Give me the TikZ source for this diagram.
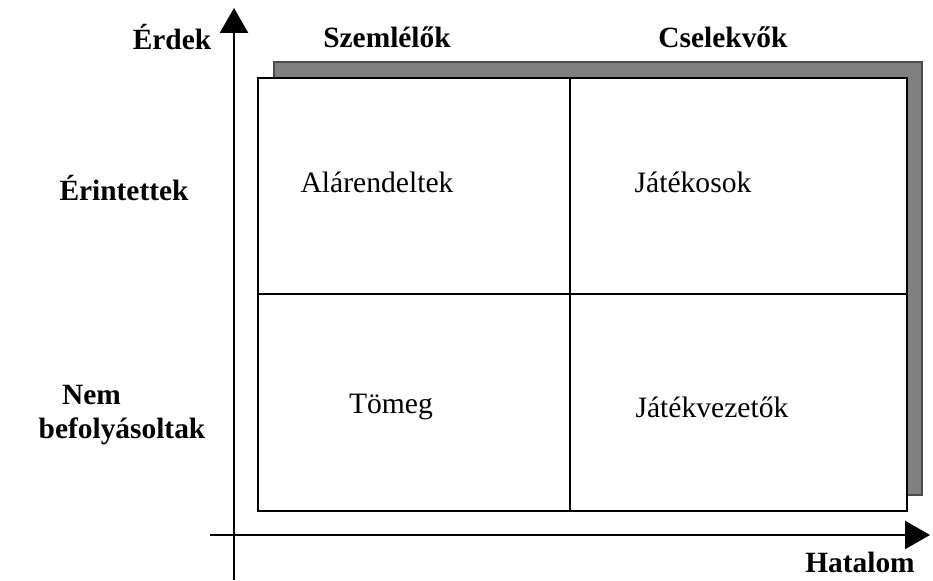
\documentclass[tikz,border=0pt]{standalone}
\usepackage{fontspec}
\setmainfont{Liberation Serif}
\usepackage{tikz}
\usetikzlibrary{arrows.meta, positioning}
\definecolor{shade}{RGB}{128, 128, 128}

\begin{document}
\begin{tikzpicture}[
  x=0.5pt, y=-0.5pt,
  hd/.style={font=\fontsize{14.7}{17}\selectfont\bfseries, inner sep=0pt},
  cl/.style={font=\fontsize{14.8}{17}\selectfont, inner sep=0pt},
  ax/.style={-{Triangle[length=12.5pt, width=14pt]}, line width=1.3pt},
  frm/.style={draw, line width=1pt},
]
  \useasboundingbox (0,0) rectangle (933,581);

  % shadow and matrix
  \draw[frm, fill=shade, draw=black!70] (274,62) rectangle (922,495);
  \draw[frm, fill=white] (258,78) rectangle (907,511);
  \coordinate (mt) at (570,78);
  \coordinate (mb) at (570,511);
  \coordinate (ml) at (258,294);
  \coordinate (mr) at (907,294);
  \draw[frm] (mt) -- (mb);
  \draw[frm] (ml) -- (mr);

  % axes
  \coordinate (y0) at (234,580);
  \coordinate (y1) at (234,8);
  \coordinate (x0) at (210,535);
  \coordinate (x1) at (930,535);
  \draw[ax] (y0) -- (y1);
  \draw[ax] (x0) -- (x1);

  % headings
  \node[hd] (erdek) at (172,37) {Érdek};
  \node[hd] (szem) at (387,37) {Szemlélők};
  \node[hd] (csel) at (723,37) {Cselekvők};
  \node[hd] (erint) at (124,188) {Érintettek};
  \node[hd, align=left] (nemb) at (122,415) {\hspace*{0.8em}Nem\\befolyásoltak};
  \node[hd] (hatalom) at (860,562) {Hatalom};

  % cells
  \node[cl] (alar) at (377,182) {Alárendeltek};
  \node[cl] (jatek) at (693,182) {Játékosok};
  \node[cl] (tomeg) at (391,407) {Tömeg};
  \node[cl] (jvez) at (712,407) {Játékvezetők};
\end{tikzpicture}
\end{document}
